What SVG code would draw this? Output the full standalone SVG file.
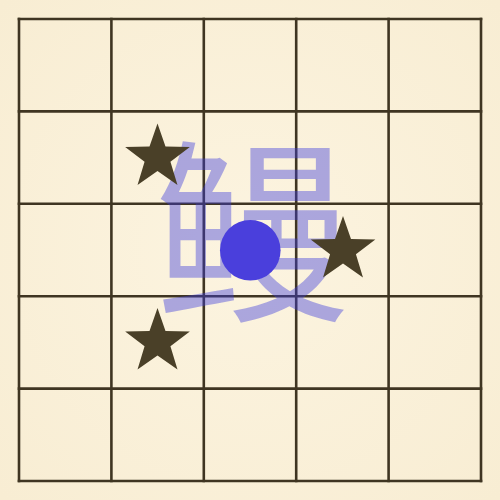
<svg xmlns="http://www.w3.org/2000/svg" width="500" height="500" viewBox="0 0 500 500">
  <defs>
    <radialGradient id="paper" cx="50%" cy="50%" r="70%">
      <stop offset="0" stop-color="#fcf4e0"/>
      <stop offset="1" stop-color="#f8edd3"/>
    </radialGradient>
    <polygon id="star" points="0,-34 7.99,-11 32.34,-10.51 12.93,4.2 19.98,27.51 0,13.6 -19.98,27.51 -12.93,4.2 -32.34,-10.51 -7.99,-11"/>
  </defs>
  <style>
    .grid line { stroke: #3f3522; stroke-width: 2.6; stroke-linecap: square; }
    .star { fill: #4a4028; }
    .glyph { font-family: "Noto Sans CJK SC", "Noto Sans CJK JP", sans-serif; font-size: 196px; fill: #3c3cdc; fill-opacity: 0.42; }
  </style>
  <rect width="500" height="500" fill="url(#paper)"/>
  <g id="grid" class="grid">
    <line x1="19" y1="19" x2="481" y2="19"/>
    <line x1="19" y1="111.4" x2="481" y2="111.4"/>
    <line x1="19" y1="203.8" x2="481" y2="203.8"/>
    <line x1="19" y1="296.2" x2="481" y2="296.2"/>
    <line x1="19" y1="388.6" x2="481" y2="388.6"/>
    <line x1="19" y1="481" x2="481" y2="481"/>
    <line x1="19" y1="19" x2="19" y2="481"/>
    <line x1="111.4" y1="19" x2="111.4" y2="481"/>
    <line x1="203.8" y1="19" x2="203.8" y2="481"/>
    <line x1="296.2" y1="19" x2="296.2" y2="481"/>
    <line x1="388.6" y1="19" x2="388.6" y2="481"/>
    <line x1="481" y1="19" x2="481" y2="481"/>
  </g>
  <g id="character">
    <text class="glyph" x="252" y="306" text-anchor="middle">鳗</text>
  </g>
  <g id="star1"><use href="#star" class="star" x="157.5" y="157.5"/></g>
  <g id="star2"><use href="#star" class="star" x="343" y="250"/></g>
  <g id="star3"><use href="#star" class="star" x="157.5" y="342"/></g>
  <g id="stone"><circle cx="250.3" cy="250.3" r="30.3" fill="#4a3fdc"/></g>
</svg>
